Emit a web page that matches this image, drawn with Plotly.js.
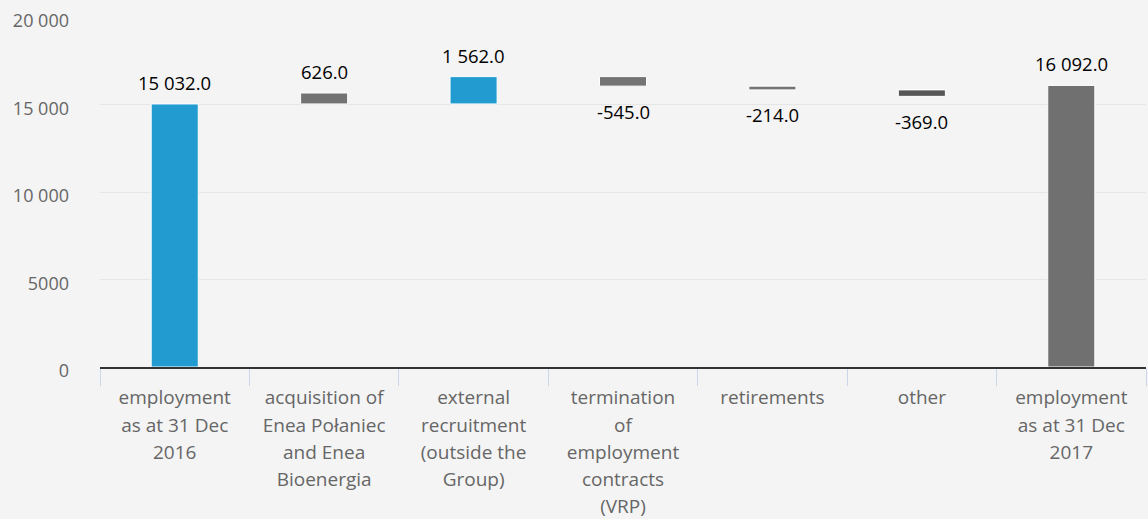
<!DOCTYPE html>
<html>
<head>
<meta charset="utf-8">
<script src="https://cdn.plot.ly/plotly-3.0.1.min.js"></script>
<style>
  html, body { margin: 0; padding: 0; background: #f4f4f4; }
  #chart { width: 1148px; height: 519px; }
</style>
</head>
<body>
<div id="chart"></div>
<script>
// ---- data ----
const categories = ['start2016', 'acquisition', 'external', 'termination', 'retirements', 'other', 'end2017'];
const tickLabels = [
  'employment<br>as at 31 Dec<br>2016',
  'acquisition of<br>Enea Połaniec<br>and Enea<br>Bioenergia',
  'external<br>recruitment<br>(outside the<br>Group)',
  'termination<br>of<br>employment<br>contracts<br>(VRP)',
  'retirements',
  'other',
  'employment<br>as at 31 Dec<br>2017'
];
const values = [15032, 626, 1562, -545, -214, -369, 16092];
const barStart = [0, 15032, 15032, 16594, 16049, 15835, 0];
const barColors = ['#219bd0', '#737373', '#219bd0', '#737373', '#737373', '#565656', '#707070'];
const yTickVals = [0, 5000, 10000, 15000, 20000];
const yTickText = ['0', '5000', '10 000', '15 000', '20 000'];

function fmt(v) {
  const neg = v < 0;
  const a = Math.abs(v).toFixed(1);
  let [i, d] = a.split('.');
  i = i.replace(/\B(?=(\d{3})+(?!\d))/g, ' ');
  return (neg ? '-' : '') + i + '.' + d;
}

const FONT = 'Open Sans, Noto Sans, sans-serif';

const trace = {
  type: 'bar',
  x: categories,
  y: values,
  base: barStart,
  width: 0.315,
  marker: { color: barColors, line: { color: '#ffffff', width: 1 } },
  hoverinfo: 'none',
  showlegend: false
};

const annotations = categories.map((c, i) => {
  const end = barStart[i] + values[i];
  const pos = values[i] >= 0;
  return {
    x: c, y: end, xref: 'x', yref: 'y',
    text: fmt(values[i]),
    showarrow: false,
    yanchor: 'middle',
    yshift: pos ? 21.5 : -25,
    font: { family: FONT, size: 18.5, color: '#000000' }
  };
});

const layout = {
  width: 1148, height: 519,
  margin: { l: 100, r: 2, t: 17, b: 152 },
  paper_bgcolor: '#f4f4f4',
  plot_bgcolor: '#f4f4f4',
  font: { family: FONT, size: 18, color: '#666666' },
  bargap: 0,
  xaxis: {
    type: 'category',
    tickvals: categories,
    ticktext: tickLabels.map(t => '<span style="font-size:19px">' + t.split('<br>').join('</span><br><span style="font-size:19px">') + '</span>'),
    tickson: 'boundaries',
    ticks: 'outside',
    ticklen: 17,
    tickwidth: 1,
    tickcolor: '#ccd6eb',
    showline: true,
    linecolor: '#333333',
    linewidth: 2,
    showgrid: false,
    zeroline: false,
    ticklabelstandoff: 10,
    tickfont: { family: FONT, size: 21, color: '#666666' },
    fixedrange: true
  },
  yaxis: {
    range: [0, 20000],
    tickvals: yTickVals,
    ticktext: yTickText,
    gridcolor: '#e6e6e6',
    gridwidth: 1,
    zeroline: false,
    showline: false,
    ticks: '',
    ticklabelstandoff: 30,
    ticklabelshift: 4,
    tickfont: { family: FONT, size: 18, color: '#666666' },
    fixedrange: true
  },
  annotations: annotations
};

Plotly.newPlot('chart', [trace], layout, { displayModeBar: false, staticPlot: true });
</script>
</body>
</html>
